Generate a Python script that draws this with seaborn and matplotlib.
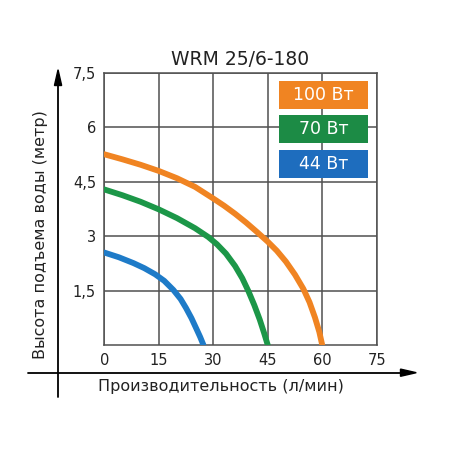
import numpy as np
import pandas as pd
import matplotlib
matplotlib.use("Agg")
import matplotlib.pyplot as plt
from matplotlib.patches import Rectangle
import seaborn as sns

# curve data (flow l/min, head m)
flow_100 = [0, 5, 10, 15, 20, 25, 30, 33, 36, 39, 42, 45, 47.5, 50, 52.5, 54.8, 56.5, 58, 59.2, 60]
head_100 = [5.26, 5.12, 4.97, 4.80, 4.60, 4.36, 4.04, 3.84, 3.62, 3.38, 3.12, 2.85, 2.60, 2.30, 1.94, 1.55, 1.18, 0.76, 0.36, 0]
flow_70 = [0, 5, 10, 15, 20, 25, 28.6, 31, 33.5, 36, 38, 39.7, 41.3, 42.8, 44, 45]
head_70 = [4.29, 4.13, 3.95, 3.74, 3.50, 3.22, 2.98, 2.78, 2.52, 2.18, 1.84, 1.48, 1.10, 0.70, 0.33, 0]
flow_44 = [0, 4, 8, 11, 14, 16.5, 19, 21, 22.5, 24, 25.3, 26.4, 27.3]
head_44 = [2.55, 2.42, 2.26, 2.12, 1.95, 1.77, 1.52, 1.27, 1.02, 0.74, 0.46, 0.22, 0]

series_names = ["100 Вт", "70 Вт", "44 Вт"]
colors = ["#F08422", "#1C9748", "#1E7BC8"]
box_colors = ["#F08422", "#1C8B45", "#1E6DBE"]
x_ticks = [0, 15, 30, 45, 60, 75]
y_ticks = [1.5, 3, 4.5, 6, 7.5]
y_tick_labels = ["1,5", "3", "4,5", "6", "7,5"]

df = pd.concat([
    pd.DataFrame({"flow": flow_100, "head": head_100, "power": series_names[0]}),
    pd.DataFrame({"flow": flow_70, "head": head_70, "power": series_names[1]}),
    pd.DataFrame({"flow": flow_44, "head": head_44, "power": series_names[2]}),
])

sns.set_style("white")
plt.rcParams["font.family"] = ["DejaVu Sans"]

fig = plt.figure(figsize=(4.5, 4.5), dpi=100)
ax = fig.add_axes([0.2318, 0.2333, 0.6053, 0.6044])

grid_col = "#505050"
sns.lineplot(data=df, x="flow", y="head", hue="power", palette=colors,
             hue_order=series_names, sort=False, estimator=None,
             linewidth=4.2, ax=ax, legend=False, zorder=3,
             solid_capstyle="round", solid_joinstyle="round")

ax.set_xlim(0, 75)
ax.set_ylim(0, 7.5)
ax.set_xticks(x_ticks)
ax.set_yticks(y_ticks)
ax.set_yticklabels(y_tick_labels)
ax.grid(True, color=grid_col, linewidth=1.1)
for s in ax.spines.values():
    s.set_color(grid_col)
    s.set_linewidth(1.1)
ax.tick_params(length=0, labelsize=10.5, colors="#222222", pad=6)
ax.set_xlabel("")
ax.set_ylabel("")
ax.set_title("WRM 25/6-180", fontsize=13.5, color="#222222", pad=6)

# legend boxes
box_y = [(6.50, 7.29), (5.56, 6.33), (4.60, 5.37)]
for name, c, (y0, y1) in zip(series_names, box_colors, box_y):
    ax.add_patch(Rectangle((48.1, y0), 24.5, y1 - y0, facecolor=c,
                           edgecolor="none", zorder=4))
    ax.text(60.35, (y0 + y1) / 2, name, color="white", fontsize=12.5,
            ha="center", va="center", zorder=5)

# outer arrow axes
fig.add_artist(plt.Line2D([0.129, 0.129], [0.118, 0.83], color="black",
                          linewidth=1.3, transform=fig.transFigure))
fig.add_artist(plt.Polygon([[0.121, 0.81], [0.137, 0.81], [0.129, 0.845]],
                           closed=True, color="black", transform=fig.transFigure))
fig.add_artist(plt.Line2D([0.062, 0.905], [0.1718, 0.1718], color="black",
                          linewidth=1.3, transform=fig.transFigure))
fig.add_artist(plt.Polygon([[0.89, 0.1638], [0.89, 0.1798], [0.925, 0.1718]],
                           closed=True, color="black", transform=fig.transFigure))

fig.text(0.492, 0.14, "Производительность (л/мин)", fontsize=11.5,
         ha="center", va="center", color="#222222")
fig.text(0.089, 0.478, "Высота подъема воды (метр)", fontsize=11.5,
         ha="center", va="center", rotation=90, color="#222222")

fig.savefig("out.png", dpi=100, facecolor="white")
